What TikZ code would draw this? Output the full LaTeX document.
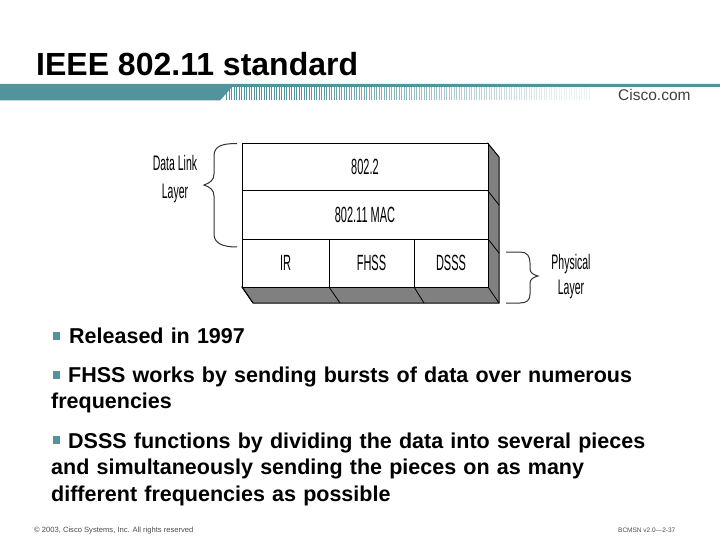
\documentclass[tikz,border=0pt]{standalone}
\usepackage{fontspec}
\setmainfont{Liberation Sans}
\newfontfamily\narrowfont[FakeStretch=0.5]{Liberation Sans}
\usetikzlibrary{positioning, calc}
\definecolor{barteal}{RGB}{82,148,158}
\definecolor{facegray}{RGB}{128,128,128}

\begin{document}
\begin{tikzpicture}[x=1pt, y=-1pt]
    \tikzset{
        layer/.style={rectangle, draw=black, line width=1pt, fill=white, inner sep=0pt, outer sep=0pt,
                     anchor=north west, font=\narrowfont\fontsize{22}{22}\selectfont},
        face/.style={draw=black, line width=1pt, fill=facegray},
        edgeline/.style={draw=black, line width=0.8pt},
        brace/.style={draw=black!80, line width=1pt},
        sidelabel/.style={align=center, font=\narrowfont\fontsize{21}{25}\selectfont},
        bullet/.style={anchor=base west, inner sep=0pt, align=left, text width=640pt,
                     font=\fontsize{21.5}{26.5}\selectfont\bfseries},
        small/.style={anchor=base west, inner sep=0pt, text=black!70}
    }
    \useasboundingbox (0,0) rectangle (720,540);
    \fill[white] (0,0) rectangle (720,540);
    % title and bar
    \node[anchor=base west, inner sep=0pt, font=\fontsize{32}{32}\selectfont\bfseries] (title) at (36,76) {IEEE 802.11 standard};
    \fill[barteal] (0,84) -- (720,84) -- (720,87) -- (232,87) -- (220,100.5) -- (0,100.5) -- cycle;
    \foreach \x in {226,228.5,...,590} {
        \pgfmathsetmacro{\fade}{min(100,max(12,(600-\x)/3))}
        \fill[barteal!\fade] (\x,87) rectangle +(1.2,13);
    }
    \node[anchor=base west, inner sep=0pt, text=black!75, font=\fontsize{15.5}{16}\selectfont] (cisco) at (618,101) {Cisco.com};
    % stack faces
    \coordinate (topleft) at (242,143.5);
    \path[face] (488,143.5) -- (499,157) -- (499,303) -- (253,303) -- (242,287) -- (488,287) -- cycle;
    \node[layer, minimum width=246pt, minimum height=47.5pt] (llc) at (topleft) {802.2};
    \node[layer, minimum width=246pt, minimum height=48pt] (mac) at (llc.south west) {802.11 MAC};
    \node[layer, minimum width=87pt, minimum height=48pt] (ir) at (mac.south west) {IR};
    \node[layer, minimum width=85pt, minimum height=48pt] (fhss) at (ir.north east) {FHSS};
    \node[layer, minimum width=74pt, minimum height=48pt] (dsss) at (fhss.north east) {DSSS};
    % depth edges
    \draw[edgeline] (ir.south west) -- +(11,16);
    \draw[edgeline] (fhss.south west) -- +(11,16);
    \draw[edgeline] (dsss.south west) -- +(10,16);
    \draw[edgeline] (dsss.south east) -- +(11,16);
    \draw[edgeline] (llc.south east) -- +(11,14);
    \draw[edgeline] (mac.south east) -- +(11,14);
    % braces
    \draw[brace] (237,143.5) .. controls (222,143.5) and (214,146) .. (214,156) -- (214,174)
        .. controls (214,180) and (210,183) .. (204,185) .. controls (210,187) and (214,190) .. (214,196)
        -- (214,234) .. controls (214,243) and (222,247) .. (237,247);
    \draw[brace] (506,252) -- (520,252) .. controls (527,252) and (530,256) .. (530,263) -- (530,269)
        .. controls (530,273) and (534,275) .. (538,276) .. controls (534,277) and (530,279) .. (530,283)
        -- (530,294) .. controls (530,300) and (527,303) .. (520,303) -- (506,303);
    \node[sidelabel] (datalink) at (175,179) {Data Link\\[3pt]Layer};
    \node[sidelabel] (physical) at (571,277) {Physical\\Layer};
    % bullets
    \fill[barteal] (53,332) rectangle (60,340);
    \node[bullet] (first) at (69,343) {Released in 1997};
    \fill[barteal] (53,371) rectangle (60,379);
    \node[bullet] (second) at (51,382) {\hspace{17pt}FHSS works by sending bursts of data over numerous\\frequencies};
    \fill[barteal] (53,436) rectangle (60,444);
    \node[bullet] (third) at (51,448) {\hspace{17pt}DSSS functions by dividing the data into several pieces\\and simultaneously sending the pieces on as many\\different frequencies as possible};
    % footer
    \node[small, font=\fontsize{7.6}{8}\selectfont] (copyright) at (34,532) {© 2003, Cisco Systems, Inc. All rights reserved};
    \node[small, font=\fontsize{6.5}{8}\selectfont] (course) at (618,532) {BCMSN v2.0—2-37};
\end{tikzpicture}
\end{document}
